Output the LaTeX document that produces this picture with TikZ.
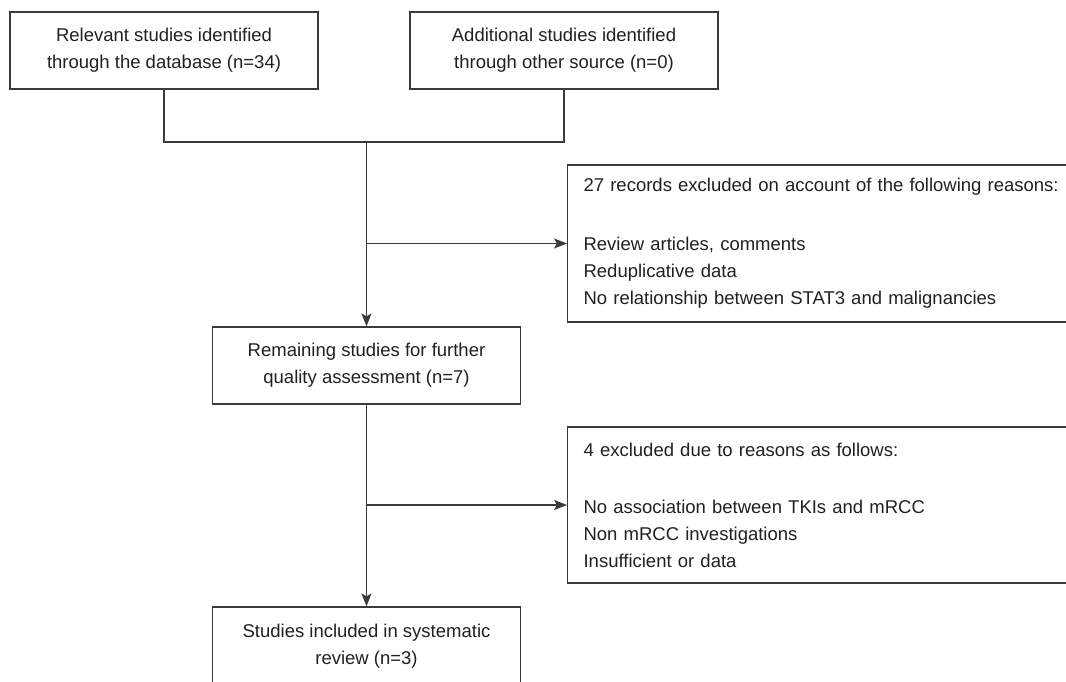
\documentclass[tikz,border=0pt]{standalone}
\usepackage{fontspec}
\setmainfont{Liberation Sans}
\usetikzlibrary{arrows.meta}
\definecolor{ln}{HTML}{3A3A3A}
\definecolor{tx}{HTML}{231F20}
\begin{document}
\begin{tikzpicture}[x=1pt,y=-1pt,
  every node/.style={font=\fontsize{18.5}{27}\selectfont, text=tx},
  mainbox/.style={draw=ln, line width=1.2pt, minimum width=308pt, minimum height=77pt, align=center, inner sep=0pt},
  exbox/.style={draw=ln, line width=1.2pt, text width=490pt, inner xsep=16pt, align=left},
  conn/.style={draw=ln, line width=1.2pt},
  arr/.style={conn, -{Stealth[length=13pt,width=10pt,inset=3pt]}}
]
\useasboundingbox (0,0) rectangle (1066,682);
\clip (0,0) rectangle (1066,682);
\node[mainbox] (b1) at (164,50.5) {Relevant studies identified\\through the database (n=34)};
\node[mainbox] (b2) at (564,50.5) {Additional studies identified\\through other source (n=0)};
\node[mainbox] (b3) at (366.5,365.5) {Remaining studies for further\\quality assessment (n=7)};
\node[mainbox, minimum height=79pt] (b4) at (366.5,646.5) {Studies included in systematic\\review (n=3)};
\node[exbox, minimum height=157pt, anchor=west] (e1) at (567,243.5) {27 records excluded on account of the following reasons:\\[32pt]Review articles, comments\\Reduplicative data\\No relationship between STAT3 and malignancies};
\node[exbox, minimum height=156pt, anchor=west] (e2) at (567,505) {4 excluded due to reasons as follows:\\[30pt]No association between TKIs and mRCC\\Non mRCC investigations\\Insufficient or data};
\coordinate (m) at (366.5,142);
\draw[conn] (b1.south) |- (m);
\draw[conn] (b2.south) |- (m);
\draw[arr] (m) -- (b3.north);
\coordinate (j1) at (m |- e1.west);
\draw[arr] (j1) -- (e1.west);
\draw[arr] (b3.south) -- (b4.north);
\coordinate (j2) at (b3.south |- e2.west);
\draw[arr] (j2) -- (e2.west);
\end{tikzpicture}
\end{document}
